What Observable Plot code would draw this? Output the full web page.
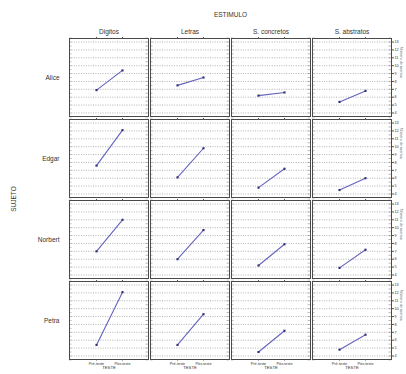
<!DOCTYPE html>
<html>
<head>
<meta charset="utf-8">
<script src="https://cdn.jsdelivr.net/npm/d3@7"></script>
<script src="https://cdn.jsdelivr.net/npm/@observablehq/plot@0.6"></script>
<style>
  html, body { margin: 0; padding: 0; background: #fff; }
  svg { display: block; }
</style>
</head>
<body>
<div id="chart"></div>
<script>
// Categories
const sujetos = ["Alice", "Edgar", "Norbert", "Petra"];
const estimulos = ["Digitos", "Letras", "S. concretos", "S. abstratos"];
const testes = ["Pré-teste", "Pós-teste"];
const yTicks = [4, 5, 6, 7, 8, 9, 10, 11, 12, 13];

// Values: [Pré-teste, Pós-teste] for each estímulo, in the order of `estimulos`
const alice   = [[6.9, 9.4], [7.5, 8.5], [6.2, 6.6], [5.4, 6.8]];
const edgar   = [[7.6, 12.1], [6.1, 9.8], [4.8, 7.2], [4.5, 6.0]];
const norbert = [[7.0, 11.0], [6.0, 9.7], [5.2, 7.9], [4.9, 7.2]];
const petra   = [[5.4, 12.1], [5.4, 9.3], [4.5, 7.2], [4.8, 6.7]];

const series = [alice, edgar, norbert, petra];
const rows = [];
sujetos.forEach((s, i) => {
  estimulos.forEach((e, j) => {
    testes.forEach((t, k) => {
      rows.push({sujeto: s, estimulo: e, teste: t, valor: series[i][j][k]});
    });
  });
});

const minorTicks = d3.range(3.5, 13.51, 0.5);

const chart = Plot.plot({
  width: 406,
  height: 374,
  marginLeft: 69,
  marginRight: 15,
  marginTop: 37,
  marginBottom: 15,
  style: {fontFamily: "Liberation Sans, Arial, sans-serif", background: "#fff", color: "#333"},
  fx: {domain: estimulos, paddingInner: 0.025, paddingOuter: 0},
  fy: {domain: sujetos, paddingInner: 0.042, paddingOuter: 0},
  x: {type: "point", domain: testes, padding: 1},
  y: {domain: [3.55, 13.45]},
  marks: [
    Plot.gridY(yTicks, {stroke: "#a0a0a0", strokeOpacity: 1, strokeWidth: 0.8, strokeDasharray: "1,1.4"}),
    Plot.tickY(minorTicks, {y: d => d, insetRight: 76.5, stroke: "#777", strokeWidth: 0.5}),
    Plot.tickY(minorTicks, {y: d => d, insetLeft: 76.5, stroke: "#777", strokeWidth: 0.5}),
    Plot.frame({stroke: "#4a4a4a", strokeWidth: 1}),
    Plot.axisX({anchor: "top", facetAnchor: null, tickSize: 2, tickFormat: () => "", label: null, stroke: "#555"}),
    Plot.axisX({anchor: "bottom", tickSize: 1.5, tickPadding: 0.8, fontSize: 3.8, label: null, stroke: "#555"}),
    Plot.axisY({anchor: "right", ticks: yTicks, tickSize: 2, tickPadding: 1, fontSize: 3.8, label: null, stroke: "#555"}),
    Plot.axisFx({anchor: "top", tickSize: 0, tickPadding: 5, fontSize: 6.5, label: "ESTIMULO", labelAnchor: "center", labelArrow: "none", labelOffset: 26}),
    Plot.axisFy({anchor: "left", tickSize: 0, tickPadding: 10, fontSize: 6.5, label: "SUJETO", labelAnchor: "center", labelArrow: "none", labelOffset: 58}),
    Plot.text(estimulos, {fx: d => d, fy: () => "Petra", text: () => "TESTE", frameAnchor: "bottom", dy: 9, fontSize: 4.2, fill: "#333"}),
    Plot.text(sujetos, {fy: d => d, fx: () => "S. abstratos", text: () => "Número de acertos", frameAnchor: "right", dx: 10, rotate: 90, fontSize: 3.6, fill: "#555"}),
    Plot.line(rows, {x: "teste", y: "valor", fx: "estimulo", fy: "sujeto", stroke: "#6464be", strokeWidth: 1.1}),
    Plot.dot(rows, {x: "teste", y: "valor", fx: "estimulo", fy: "sujeto", symbol: "square", r: 1.2, fill: "#2e2e7a", stroke: "none"})
  ]
});
document.getElementById("chart").appendChild(chart);
</script>
</body>
</html>
